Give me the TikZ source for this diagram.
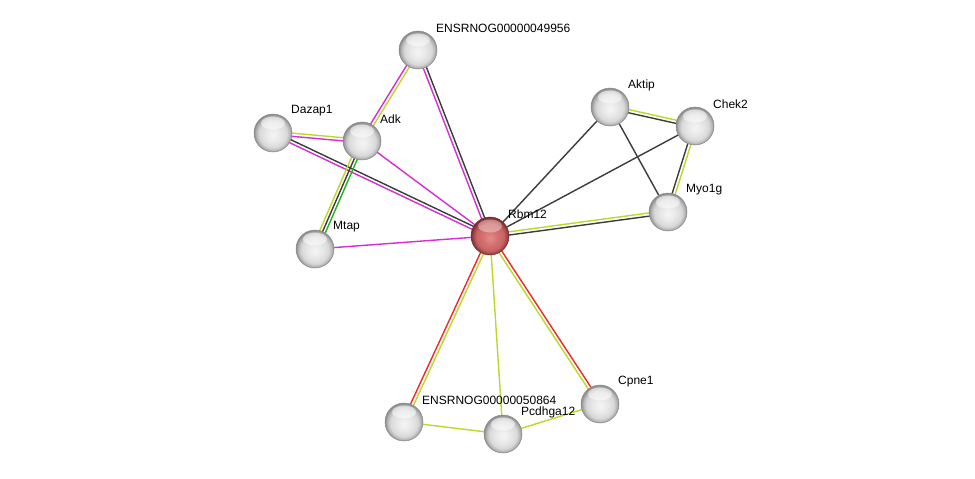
\documentclass[tikz,border=0pt]{standalone}
\usepackage{fontspec}
\setmainfont{Liberation Sans}
\usetikzlibrary{calc}
\definecolor{mag}{RGB}{214,46,214}
\definecolor{yg}{RGB}{192,214,40}
\definecolor{dk}{RGB}{60,60,60}
\definecolor{rd}{RGB}{240,40,40}
\definecolor{gr}{RGB}{30,180,30}
\definecolor{rb1}{RGB}{226,140,140}
\definecolor{rb2}{RGB}{212,112,112}
\definecolor{rb3}{RGB}{200,100,100}
\definecolor{rb4}{RGB}{165,70,70}
\definecolor{rb5}{RGB}{120,45,45}
\pgfdeclareradialshading{greyball}{\pgfpoint{0bp}{-3bp}}{color(0bp)=(white!96!black); color(10bp)=(white!91!black); color(18bp)=(white!85!black); color(22bp)=(white!72!black); color(25bp)=(white!55!black); color(30bp)=(white!50!black)}
\pgfdeclareradialshading{redball}{\pgfpoint{0bp}{-3bp}}{color(0bp)=(rb1); color(10bp)=(rb2); color(18bp)=(rb3); color(22bp)=(rb4); color(25bp)=(rb5); color(30bp)=(rb5)}
\newcommand\lnk[4]{\draw[#4] ($(#1.center)!#3!90:(#2.center)$) -- ($(#2.center)!#3!-90:(#1.center)$);}
\tikzset{
  prot/.style={circle, minimum size=38pt, inner sep=0pt, shading=greyball, draw=white!55!black, line width=0.5pt},
  hub/.style={prot, shading=redball, draw=rb5},
  spot/.style={circle, minimum size=38pt, inner sep=0pt},
  lbl/.style={anchor=west, inner sep=0pt, font=\fontsize{12}{14}\selectfont},
  e/.style={line width=1.4pt}
}
\begin{document}
\begin{tikzpicture}[x=1pt,y=-1pt]
\useasboundingbox[fill=white] (0,0) rectangle (975,479);
\node[spot] (E49) at (418,50) {};
\node[spot] (Daz) at (273,133) {};
\node[spot] (Adk) at (362,141) {};
\node[spot] (Mta) at (315,249) {};
\node[spot] (Rbm) at (490,236) {};
\node[spot] (Akt) at (610,107) {};
\node[spot] (Che) at (695,126) {};
\node[spot] (Myo) at (668,212) {};
\node[spot] (E50) at (404,422) {};
\node[spot] (Pcd) at (503,434) {};
\node[spot] (Cpn) at (600,404) {};
% edges
\lnk{E49}{Adk}{-1.6pt}{e,mag}
\lnk{E49}{Adk}{1.6pt}{e,yg}
\lnk{E49}{Rbm}{-1.6pt}{e,mag}
\lnk{E49}{Rbm}{1.6pt}{e,dk}
\lnk{Daz}{Adk}{1.6pt}{e,yg}
\lnk{Daz}{Adk}{-1.6pt}{e,mag}
\lnk{Daz}{Rbm}{1.6pt}{e,dk}
\lnk{Daz}{Rbm}{-1.6pt}{e,mag}
\lnk{Adk}{Rbm}{0pt}{e,mag}
\lnk{Adk}{Mta}{3pt}{e,gr}
\lnk{Adk}{Mta}{0pt}{e,dk}
\lnk{Adk}{Mta}{-3pt}{e,yg}
\lnk{Mta}{Rbm}{0pt}{e,mag}
\lnk{Rbm}{Akt}{0pt}{e,dk}
\lnk{Rbm}{Che}{0pt}{e,dk}
\lnk{Rbm}{Myo}{1.6pt}{e,yg}
\lnk{Rbm}{Myo}{-1.6pt}{e,dk}
\lnk{Akt}{Che}{1.6pt}{e,yg}
\lnk{Akt}{Che}{-1.6pt}{e,dk}
\lnk{Akt}{Myo}{0pt}{e,dk}
\lnk{Che}{Myo}{-1.6pt}{e,dk}
\lnk{Che}{Myo}{1.6pt}{e,yg}
\lnk{Rbm}{E50}{1.6pt}{e,yg}
\lnk{Rbm}{E50}{-1.6pt}{e,rd}
\lnk{Rbm}{Pcd}{0pt}{e,yg}
\lnk{Rbm}{Cpn}{1.6pt}{e,rd}
\lnk{Rbm}{Cpn}{-1.6pt}{e,yg}
\lnk{E50}{Pcd}{0pt}{e,yg}
\lnk{Pcd}{Cpn}{0pt}{e,yg}
% balls
\foreach \n in {E49,Daz,Adk,Mta,Akt,Che,Myo,E50,Pcd,Cpn}{
  \node[prot] at (\n.center) {};
  \fill[white,opacity=0.5] ($(\n.center)+(0,-10)$) ellipse (12pt and 6.5pt);
}
\node[hub] at (Rbm.center) {};
\fill[white,opacity=0.35] ($(Rbm.center)+(0,-10)$) ellipse (12pt and 6.5pt);
% labels
\node[lbl] (lE49) at ($(E49.center)+(18,-22)$) {ENSRNOG00000049956};
\node[lbl] (lDaz) at ($(Daz.center)+(18,-22)$) {Dazap1};
\node[lbl] (lAdk) at ($(Adk.center)+(18,-22)$) {Adk};
\node[lbl] (lMta) at ($(Mta.center)+(18,-22)$) {Mtap};
\node[lbl] (lRbm) at ($(Rbm.center)+(18,-22)$) {Rbm12};
\node[lbl] (lAkt) at ($(Akt.center)+(18,-22)$) {Aktip};
\node[lbl] (lChe) at ($(Che.center)+(18,-22)$) {Chek2};
\node[lbl] (lMyo) at ($(Myo.center)+(18,-22)$) {Myo1g};
\node[lbl] (lE50) at ($(E50.center)+(18,-22)$) {ENSRNOG00000050864};
\node[lbl] (lPcd) at ($(Pcd.center)+(18,-22)$) {Pcdhga12};
\node[lbl] (lCpn) at ($(Cpn.center)+(18,-22)$) {Cpne1};
\end{tikzpicture}
\end{document}
